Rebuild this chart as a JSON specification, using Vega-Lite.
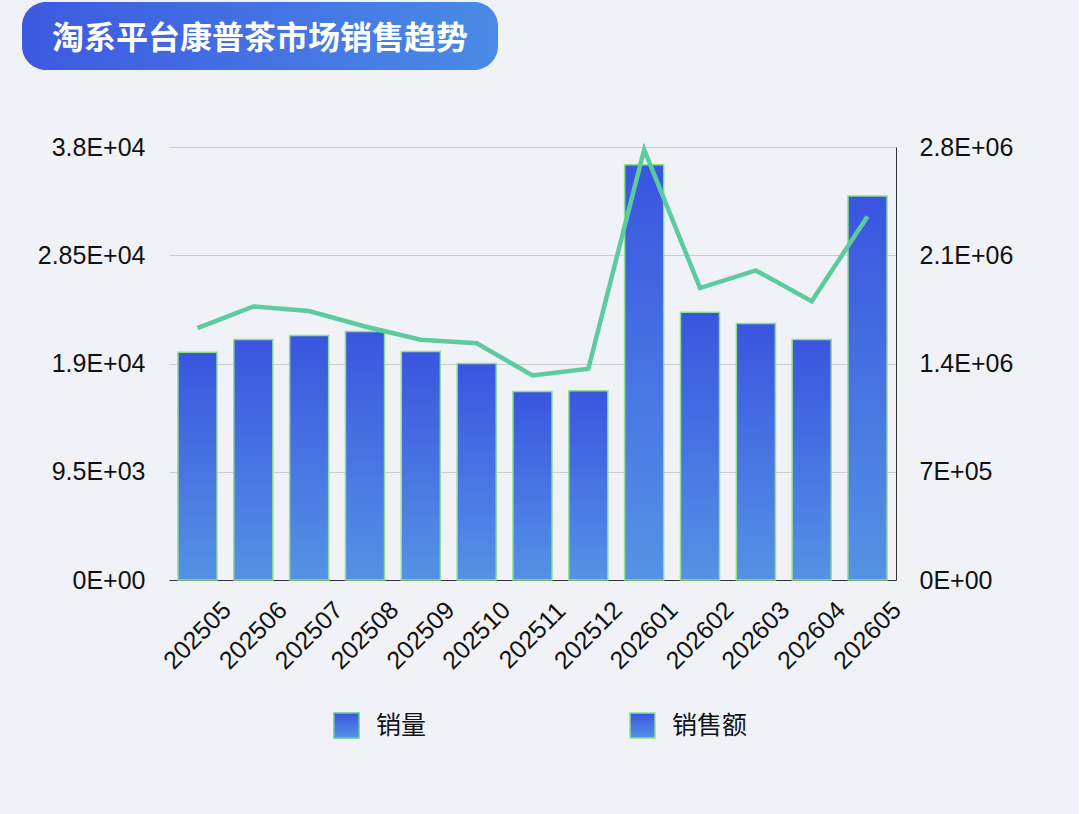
{
  "$schema": "https://vega.github.io/schema/vega-lite/v6.json",
  "background": "#F0F2F8",
  "padding": {"left": 22, "top": 2, "right": 66, "bottom": 74},
  "spacing": 65,
  "vconcat": [
    {
      "width": 476,
      "height": 68,
      "view": {
        "fill": {
          "gradient": "linear",
          "x1": 0, "y1": 0, "x2": 1, "y2": 0,
          "stops": [
            {"offset": 0, "color": "#3D59E0"},
            {"offset": 1, "color": "#4A8BE6"}
          ]
        },
        "cornerRadius": 24,
        "stroke": null
      },
      "data": {"values": [{"title": "淘系平台康普茶市场销售趋势"}]},
      "mark": {
        "type": "text",
        "font": "Noto Sans CJK SC",
        "fontSize": 32,
        "fontWeight": "bold",
        "color": "#FFFFFF",
        "dy": 3
      },
      "encoding": {"text": {"field": "title"}}
    },
    {
      "spacing": 14,
      "hconcat": [
        {
          "width": 1,
          "height": 1,
          "data": {"values": [{}]},
          "mark": {"type": "text"},
          "encoding": {"text": {"value": ""}}
        },
        {
          "width": 727,
          "height": 433,
          "data": {
            "values": [
              {"month": "202505", "volume": 22100, "amount": 1473000},
              {"month": "202506", "volume": 24000, "amount": 1555000},
              {"month": "202507", "volume": 23600, "amount": 1581000},
              {"month": "202508", "volume": 22250, "amount": 1607000},
              {"month": "202509", "volume": 21080, "amount": 1478000},
              {"month": "202510", "volume": 20780, "amount": 1400000},
              {"month": "202511", "volume": 17950, "amount": 1219000},
              {"month": "202512", "volume": 18540, "amount": 1223000},
              {"month": "202601", "volume": 37770, "amount": 2686000},
              {"month": "202602", "volume": 25620, "amount": 1732000},
              {"month": "202603", "volume": 27170, "amount": 1659000},
              {"month": "202604", "volume": 24470, "amount": 1555000},
              {"month": "202605", "volume": 31910, "amount": 2483000}
            ]
          },
          "encoding": {
            "x": {
              "field": "month",
              "type": "nominal",
              "sort": null,
              "title": null,
              "scale": {"paddingInner": 0.3, "paddingOuter": 0.16},
              "axis": {
                "labelAngle": -45,
                "labelAlign": "center",
                "labelBaseline": "middle",
                "labelPadding": 55,
                "labelOverlap": false,
                "ticks": false,
                "grid": false,
                "domainColor": "#333333"
              }
            }
          },
          "layer": [
            {
              "mark": {
                "type": "bar",
                "fill": {
                  "gradient": "linear",
                  "x1": 0, "y1": 0, "x2": 0, "y2": 1,
                  "stops": [
                    {"offset": 0, "color": "#3A55E0"},
                    {"offset": 1, "color": "#5592E4"}
                  ]
                },
                "strokeWidth": 1.5
              },
              "encoding": {
                "y": {
                  "field": "amount",
                  "type": "quantitative",
                  "title": null,
                  "scale": {"domain": [0, 2800000], "nice": false},
                  "axis": {
                    "orient": "right",
                    "values": [0, 700000, 1400000, 2100000, 2800000],
                    "grid": false,
                    "ticks": false,
                    "domain": true,
                    "domainColor": "#333333",
                    "labelPadding": 23,
                    "labelExpr": "datum.value == 0 ? '0E+00' : format(datum.value / pow(10, floor(log(datum.value) / LN10)), '~g') + 'E+' + (floor(log(datum.value) / LN10) < 10 ? '0' : '') + floor(log(datum.value) / LN10)"
                  }
                },
                "stroke": {
                  "datum": "销售额",
                  "type": "nominal",
                  "scale": {
                    "domain": ["销量", "销售额"],
                    "range": ["#5CCB9E", "#8EE08A"]
                  },
                  "legend": {
                    "title": null,
                    "orient": "none",
                    "direction": "horizontal",
                    "legendX": 311,
                    "legendY": 710,
                    "columnPadding": 200
                  }
                }
              }
            },
            {
              "mark": {"type": "line", "strokeWidth": 4.5},
              "encoding": {
                "y": {
                  "field": "volume",
                  "type": "quantitative",
                  "title": null,
                  "scale": {"domain": [0, 38000], "nice": false},
                  "axis": {
                    "orient": "left",
                    "values": [0, 9500, 19000, 28500, 38000],
                    "grid": true,
                    "gridColor": "#CCCCCC",
                    "ticks": false,
                    "domain": false,
                    "labelPadding": 24,
                    "labelExpr": "datum.value == 0 ? '0E+00' : format(datum.value / pow(10, floor(log(datum.value) / LN10)), '~g') + 'E+' + (floor(log(datum.value) / LN10) < 10 ? '0' : '') + floor(log(datum.value) / LN10)"
                  }
                },
                "stroke": {"datum": "销量", "type": "nominal"}
              }
            }
          ],
          "resolve": {"scale": {"y": "independent"}}
        }
      ]
    }
  ],
  "config": {
    "view": {"stroke": null},
    "axis": {
      "labelFont": "Liberation Sans",
      "labelFontSize": 25,
      "labelColor": "#111111"
    },
    "legend": {
      "labelFont": "Noto Sans CJK SC",
      "labelFontSize": 25,
      "labelColor": "#111111",
      "labelOffset": 16,
      "symbolSize": 625,
      "padding": 0
    }
  }
}
